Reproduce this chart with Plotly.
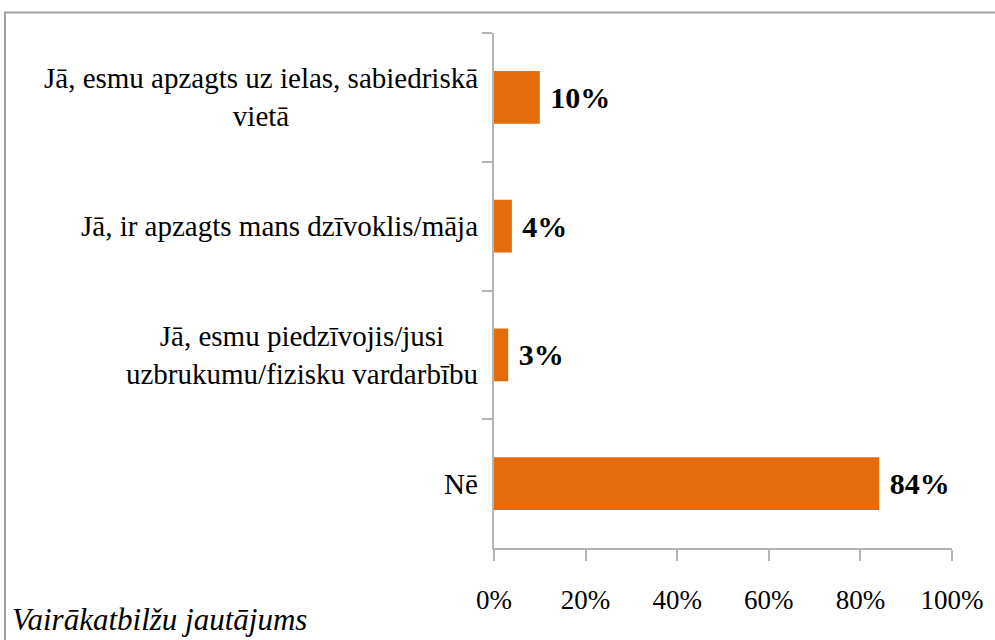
import plotly.graph_objects as go

categories = [
    "Jā, esmu apzagts uz ielas, sabiedriskā<br>vietā",
    "Jā, ir apzagts mans dzīvoklis/māja",
    "Jā, esmu piedzīvojis/jusi<br>uzbrukumu/fizisku vardarbību",
    "Nē",
]
values = [0.10, 0.039, 0.031, 0.841]
value_labels = ["10%", "4%", "3%", "84%"]
x_ticks = [0, 0.2, 0.4, 0.6, 0.8, 1.0]
x_tick_labels = ["0%", "20%", "40%", "60%", "80%", "100%"]
footnote = "Vairākatbilžu jautājums"

FONT = "Liberation Serif"
AXIS_COLOR = "#B4B4B4"

fig = go.Figure(
    go.Bar(
        y=categories,
        x=values,
        orientation="h",
        marker=dict(color="#E46C0A", line=dict(width=0)),
        width=0.41,
        text=[" " + t for t in value_labels],
        textposition="outside",
        textfont=dict(family=FONT, size=30, color="black", weight="bold"),
        cliponaxis=False,
        hoverinfo="skip",
    )
)

annotations = []
for cat in categories:
    annotations.append(
        dict(
            x=0, xref="paper", y=cat, yref="y",
            text=cat, showarrow=False, xanchor="right", yanchor="middle",
            xshift=-14, align="center",
            font=dict(family=FONT, size=29, color="black"),
        )
    )
annotations.append(
    dict(
        x=0, xref="paper", y=0, yref="paper",
        text=footnote, showarrow=False, xanchor="left", yanchor="middle",
        xshift=10 - 494, yshift=-(619 - 548),
        font=dict(family=FONT, size=31, color="black", style="italic"),
    )
)

fig.update_layout(
    width=995, height=640,
    margin=dict(l=494, r=43, t=33, b=92),
    paper_bgcolor="white", plot_bgcolor="white",
    showlegend=False,
    annotations=annotations,
    shapes=[
        dict(
            type="rect", xref="paper", yref="paper",
            x0=(5 - 494) / 458, x1=1.2, y0=-0.3, y1=(548 - 12.5) / 515,
            line=dict(color="#A0A0A0", width=2), fillcolor="rgba(0,0,0,0)",
            layer="below",
        )
    ],
)
fig.update_xaxes(
    range=[0, 1], tickvals=x_ticks, ticktext=x_tick_labels,
    showgrid=False, zeroline=False,
    showline=True, linecolor=AXIS_COLOR, linewidth=1.5,
    ticks="outside", ticklen=11, tickcolor=AXIS_COLOR, tickwidth=1.5,
    ticklabelstandoff=16,
    tickfont=dict(family=FONT, size=27, color="black"),
)
fig.update_yaxes(
    type="category", autorange="reversed",
    categoryorder="array", categoryarray=categories,
    showgrid=False, zeroline=False,
    showline=True, linecolor=AXIS_COLOR, linewidth=1.5,
    ticks="outside", tickson="boundaries", ticklen=10,
    tickcolor=AXIS_COLOR, tickwidth=1.5,
    showticklabels=False,
)

fig.write_html(
    "out.html",
    config={"displayModeBar": False},
    post_script="document.body.style.margin='0';document.body.style.overflow='hidden';",
)
